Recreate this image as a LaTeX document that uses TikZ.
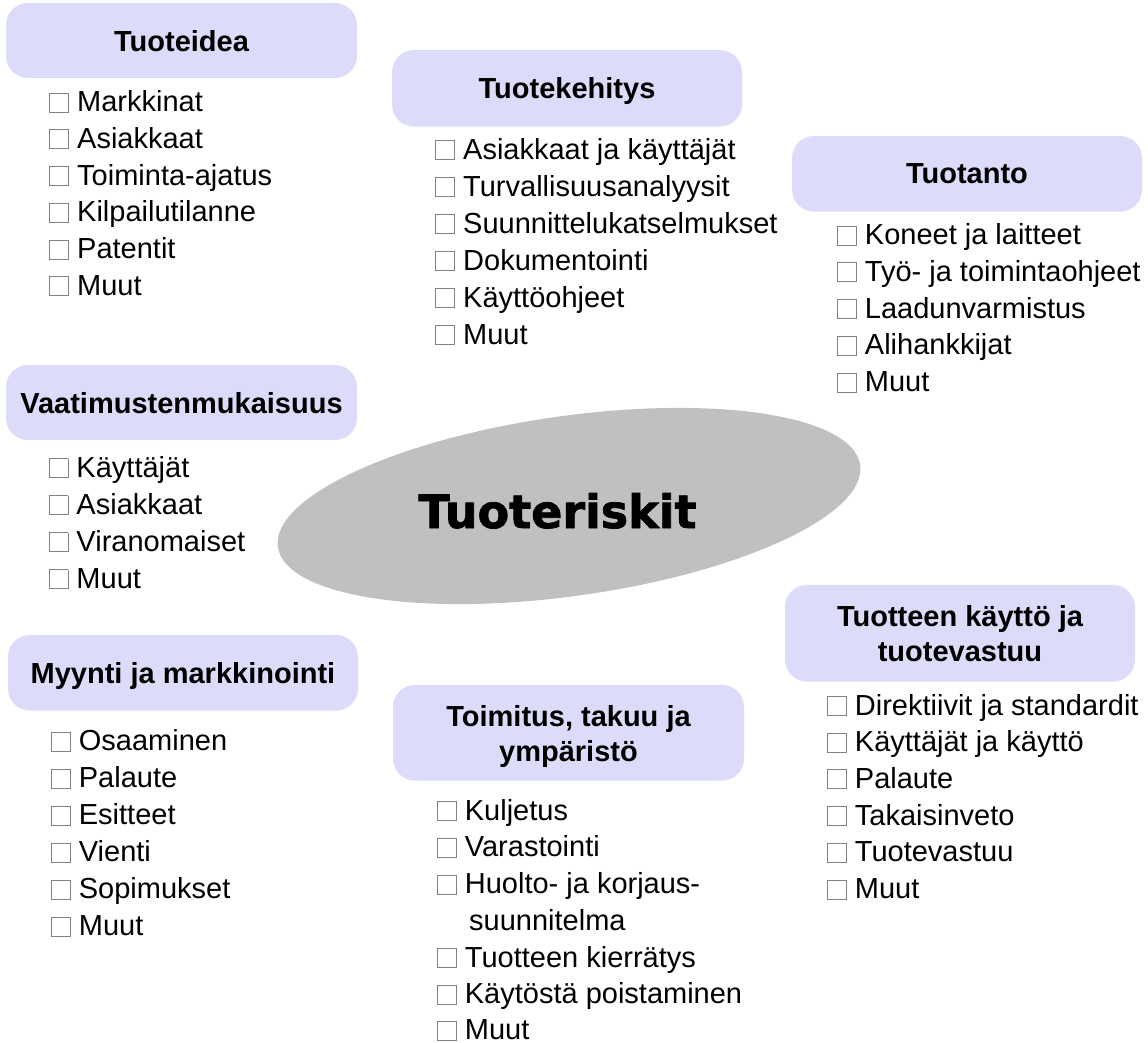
\documentclass[tikz,border=0pt]{standalone}
\usepackage{fontspec}
\setmainfont{Liberation Sans}
\newfontfamily\heavyfont{DejaVu Sans}[BoldFeatures={FakeBold=1.6}]
\usetikzlibrary{shapes.geometric}
\definecolor{hdrfill}{RGB}{220,220,250}
\definecolor{ellfill}{RGB}{192,192,192}
\definecolor{cbline}{RGB}{128,128,128}
\newcommand\cbx{{\color{cbline}\setlength\fboxrule{1pt}\setlength\fboxsep{0pt}\fbox{\rule{0pt}{18pt}\rule{18pt}{0pt}}}\hspace{8pt}}
\tikzset{
  hdr/.style={draw=none, fill=hdrfill, rounded corners=22pt, inner sep=0pt},
  htitle/.style={anchor=base, inner sep=0pt, font=\fontsize{29}{35}\selectfont\bfseries},
  item/.style={anchor=base west, inner sep=0pt, font=\fontsize{29}{36.7}\selectfont},
}
\begin{document}
\begin{tikzpicture}[x=1pt, y=-1pt]
\useasboundingbox (0,0) rectangle (1148,1043);
% central ellipse
\node[ellipse, fill=ellfill, draw=none, minimum width=588pt, minimum height=180pt, rotate=8, inner sep=0pt] (ell) at (569,506) {};
\node[anchor=base, inner sep=0pt, font=\heavyfont\bfseries\fontsize{46}{50}\selectfont] (main) at (557.5,528) {Tuoteriskit};
% header boxes
\node[hdr, minimum width=351pt, minimum height=75pt] (b1) at (181.5,40.5) {};
\node[hdr, minimum width=350pt, minimum height=76.5pt] (b2) at (567,88.3) {};
\node[hdr, minimum width=350pt, minimum height=75.7pt] (b3) at (967,173.8) {};
\node[hdr, minimum width=351pt, minimum height=75pt] (b4) at (181.5,402.5) {};
\node[hdr, minimum width=350pt, minimum height=75.7pt] (b5) at (183,672.8) {};
\node[hdr, minimum width=351pt, minimum height=95.7pt] (b6) at (568.5,732.8) {};
\node[hdr, minimum width=350pt, minimum height=96.7pt] (b7) at (960,633.3) {};
% titles
\node[htitle] (t1) at (181.5,51.5) {Tuoteidea};
\node[htitle] (t2) at (567,98.8) {Tuotekehitys};
\node[htitle] (t3) at (967,184) {Tuotanto};
\node[htitle] (t4) at (181.5,413) {Vaatimustenmukaisuus};
\node[htitle] (t5) at (183,683.3) {Myynti ja markkinointi};
\node[htitle] (t6a) at (568.5,726) {Toimitus, takuu ja};
\node[htitle] (t6b) at (568.5,761) {ympäristö};
\node[htitle] (t7a) at (960,626.5) {Tuotteen käyttö ja};
\node[htitle] (t7b) at (960,661.5) {tuotevastuu};
% items
\foreach [count=\i from 0] \itm in {Markkinat,Asiakkaat,Toiminta-ajatus,Kilpailutilanne,Patentit,Muut}
  \node[item] (a\i) at (49,111.7+36.7*\i) {\cbx\itm};
\foreach [count=\i from 0] \itm in {Asiakkaat ja käyttäjät,Turvallisuusanalyysit,Suunnittelukatselmukset,Dokumentointi,Käyttöohjeet,Muut}
  \node[item] (k\i) at (435,159.5+36.9*\i) {\cbx\itm};
\foreach [count=\i from 0] \itm in {Koneet ja laitteet,Työ- ja toimintaohjeet,Laadunvarmistus,Alihankkijat,Muut}
  \node[item] (p\i) at (836.7,244.5+36.8*\i) {\cbx\itm};
\foreach [count=\i from 0] \itm in {Käyttäjät,Asiakkaat,Viranomaiset,Muut}
  \node[item] (v\i) at (48.3,477+37*\i) {\cbx\itm};
\foreach [count=\i from 0] \itm in {Osaaminen,Palaute,Esitteet,Vienti,Sopimukset,Muut}
  \node[item] (m\i) at (50.7,750.5+37*\i) {\cbx\itm};
\node[item] (f0) at (436.7,820) {\cbx Kuljetus};
\node[item] (f1) at (436.7,856.8) {\cbx Varastointi};
\node[item] (f2) at (436.7,893.6) {\cbx Huolto- ja korjaus-};
\node[item] (f3) at (469,930.4) {suunnitelma};
\node[item] (f4) at (436.7,967.2) {\cbx Tuotteen kierrätys};
\node[item] (f5) at (436.7,1003.5) {\cbx Käytöstä poistaminen};
\node[item] (f6) at (436.7,1039.5) {\cbx Muut};
\foreach [count=\i from 0] \itm in {Direktiivit ja standardit,Käyttäjät ja käyttö,Palaute,Takaisinveto,Tuotevastuu,Muut}
  \node[item] (g\i) at (826.7,715+36.7*\i) {\cbx\itm};
\end{tikzpicture}
\end{document}
